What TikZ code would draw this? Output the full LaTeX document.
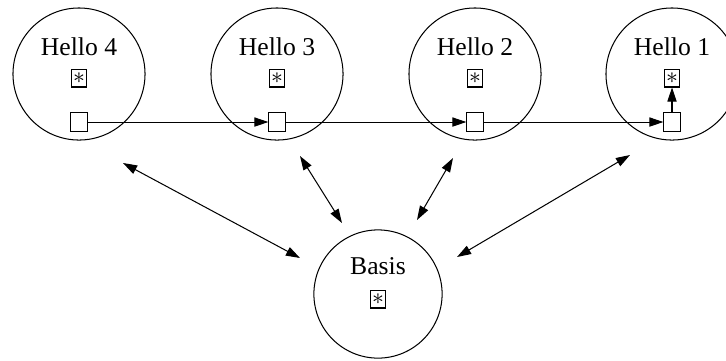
\documentclass[tikz,border=0pt]{standalone}
\usepackage{fontspec}
\setmainfont{Liberation Serif}
\usetikzlibrary{arrows.meta}
\usetikzlibrary{calc}

\begin{document}
\begin{tikzpicture}[x=0.39pt, y=-0.39pt, thin,
    >={Triangle[length=5.5pt, width=3.6pt]},
    ring/.style={draw, circle, minimum size=51.5pt, inner sep=0pt},
    title/.style={inner sep=0pt},
    starbox/.style={draw, inner sep=0pt, minimum width=6pt, minimum height=7pt, font=\small},
    portbox/.style={draw, inner sep=0pt, minimum width=6.3pt, minimum height=7.2pt}]
    \useasboundingbox (0,0) rectangle (726,360);

    % Hello objects, each with its own port
    \foreach \n/\x in {4/79,3/277,2/475,1/672} {
        \node[ring] (h\n) at (\x,74) {};
        \node[title] (t\n) at (\x,47) {Hello \n};
        \node[starbox] (s\n) at (\x,78) {$\ast$};
        \node[portbox] (p\n) at (\x,122) {};
    }

    % Basis object
    \node[ring, minimum size=50pt] (bs) at (378,294) {};
    \node[title] (tb) at (378,266) {Basis};
    \node[starbox] (sb) at (378,299) {$\ast$};

    % Chain of ports
    \foreach \a/\b in {4/3,3/2,2/1}
        \draw[->] (p\a) -- (p\b);
    \draw[->] (p1) -- (s1);

    % Links to the basis
    \foreach \n/\hx/\hy/\bx/\by in {4/44/89/-78/-36, 3/23/82/-36/-71, 2/-22/84/39/-74, 1/-42/81/79/-37} {
        \coordinate (l\n) at ($(h\n)+(\hx,\hy)$);
        \coordinate (b\n) at ($(bs)+(\bx,\by)$);
        \draw[<->] (l\n) -- (b\n);
    }
\end{tikzpicture}
\end{document}
